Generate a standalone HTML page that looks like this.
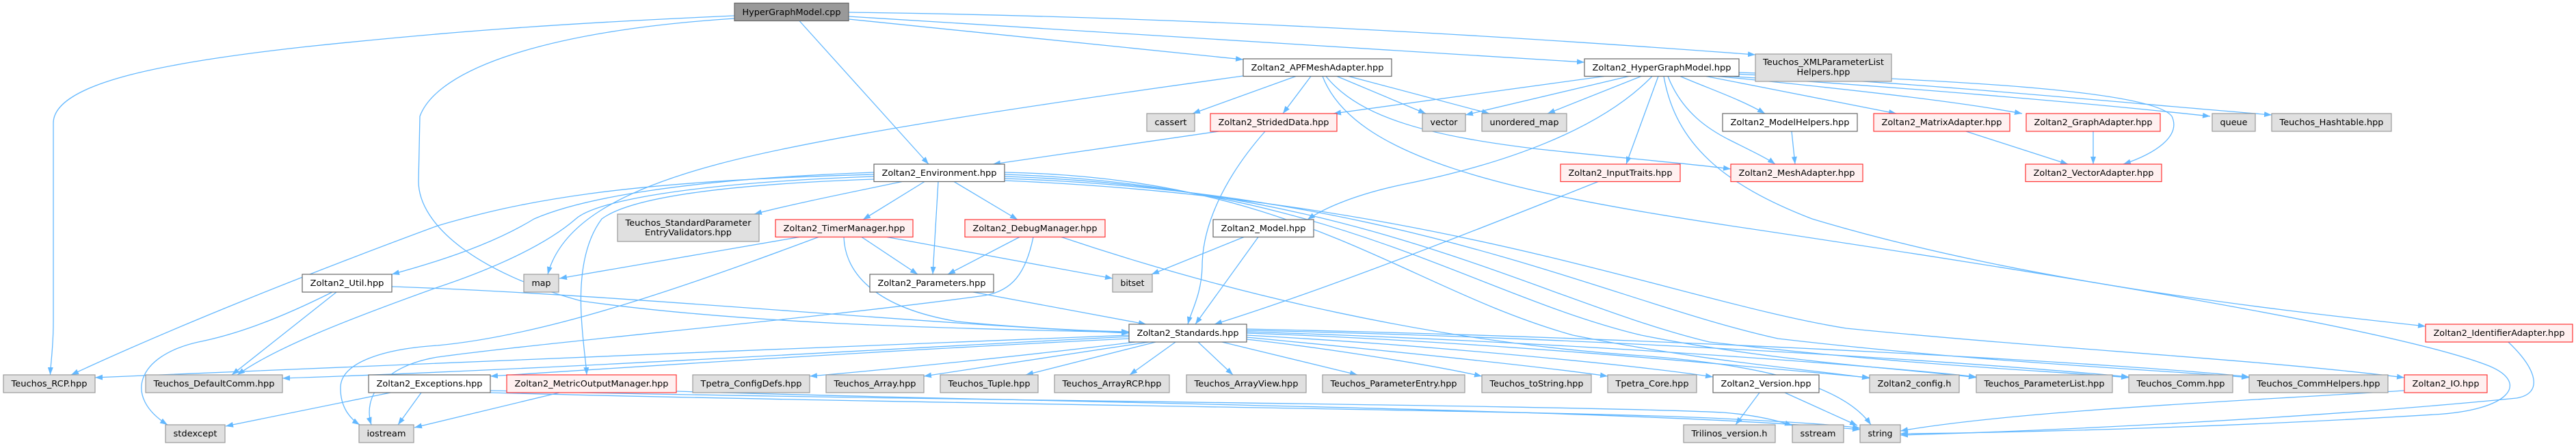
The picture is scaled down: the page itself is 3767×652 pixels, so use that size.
<!DOCTYPE html>
<html><head><meta charset="utf-8"><style>
html,body{margin:0;padding:0;background:#fff;}
svg{display:block;}
text{font-family:"DejaVu Sans","Liberation Sans",sans-serif;font-size:12.5px;fill:#000;text-anchor:middle;}
.e{fill:none;stroke:#63b8ff;stroke-width:1.3;marker-end:url(#a);}
.w{fill:#fff;stroke:#666;stroke-width:1.2;}
.g{fill:#e0e0e0;stroke:#999;stroke-width:1.2;}
.r{fill:#fff0f0;stroke:#f33;stroke-width:1.2;}
.t{fill:#999;stroke:#666;stroke-width:1.2;}
</style></head><body>
<svg width="3767" height="652" viewBox="0 0 3767 652" xmlns="http://www.w3.org/2000/svg">
<defs><marker id="a" markerWidth="11" markerHeight="8" refX="11" refY="4" orient="auto" markerUnits="userSpaceOnUse"><path d="M0,0L11,4L0,8z" fill="#63b8ff"/></marker></defs>
<rect width="3767" height="652" fill="#fff"/>
<g>
<path class="e" d="M1074,23 C800,35 640,48 450,68 C250,90 78,120 78,180 L78,470 C78,510 74,530 73.5,548"/>
<path class="e" d="M1074,27 C800,45 640,100 614,170 L612,265 C612,330 700,400 850,440 C1100,475 1400,480 1651,486"/>
<path class="e" d="M1169,30.5 L1358,240"/>
<path class="e" d="M1241,28 L1818,87"/>
<path class="e" d="M1241,24 L2317,91"/>
<path class="e" d="M1241,18 C1800,25 2300,60 2567,80"/>
<path class="e" d="M1818,111 C1500,155 1200,200 1050,240 C900,280 820,330 801,401"/>
<path class="e" d="M1895,111.5 L1744,166"/>
<path class="e" d="M1917,111.5 L1876,166"/>
<path class="e" d="M1939,111.5 C1990,175 2100,200 2250,218 C2380,232 2460,238 2531,247"/>
<path class="e" d="M1934,111.5 C1980,230 2200,280 2530,330 C3000,400 3500,480 3640,535 C3700,560 3670,600 3560,606 C3300,622 3000,632 2779,634"/>
<path class="e" d="M1955,111.5 L2085,166"/>
<path class="e" d="M1972,111.5 L2178,166"/>
<path class="e" d="M2346,111.5 L1950,166"/>
<path class="e" d="M2382,111.5 L2143,168"/>
<path class="e" d="M2400,111.5 L2263,166"/>
<path class="e" d="M2416,111.5 C2340,190 2200,240 2050,270 C1980,285 1935,305 1912,321"/>
<path class="e" d="M2425,111.5 L2378,240"/>
<path class="e" d="M2439,111.5 C2460,165 2500,190 2530,205 C2560,220 2585,232 2596,240"/>
<path class="e" d="M2433,111.5 C2450,210 2520,270 2650,320 C2950,410 3300,450 3547,477"/>
<path class="e" d="M2457,111.5 C2500,130 2545,145 2581,166"/>
<path class="e" d="M2495,111.5 L2773,166"/>
<path class="e" d="M2512,111.5 C2700,130 2860,148 2957,166"/>
<path class="e" d="M2528,111.5 C2750,125 3050,150 3232,170"/>
<path class="e" d="M2535,108 C2800,120 3100,150 3322,168"/>
<path class="e" d="M2543,106 C2900,118 3150,135 3176,170 C3190,200 3150,225 3105,240"/>
<path class="e" d="M1782,192 L1452,240"/>
<path class="e" d="M1850,192 C1790,260 1758,330 1758,390 C1757,430 1742,455 1737,474"/>
<path class="e" d="M1278,252 C1000,262 850,290 781,320 C740,345 680,372 573,401"/>
<path class="e" d="M1278,255 C900,265 760,295 640,330 C450,400 250,480 104,548"/>
<path class="e" d="M1278,258 C1000,268 870,295 842,320 C790,365 700,400 640,420 C500,470 400,510 347,548"/>
<path class="e" d="M1319,265.5 C1250,280 1150,300 1103,313"/>
<path class="e" d="M1352,265.5 L1262,321"/>
<path class="e" d="M1372,265.5 L1364,401"/>
<path class="e" d="M1395,265.5 L1488,321"/>
<path class="e" d="M1278,262 C1050,270 920,290 880,320 C850,360 848,420 850,460 C852,500 857,530 858,548"/>
<path class="e" d="M1469,252 C1900,260 2050,420 2300,490 C2500,530 2650,540 2734,553"/>
<path class="e" d="M1469,255 C1950,270 2150,430 2400,490 C2600,530 2800,540 2890,552"/>
<path class="e" d="M1469,258 C2000,275 2250,440 2500,500 C2800,535 3000,542 3113,552"/>
<path class="e" d="M1469,261 C2050,280 2350,440 2600,495 C2900,530 3150,540 3289,552"/>
<path class="e" d="M1469,264 C2100,290 2450,440 2700,480 C3000,510 3300,525 3516,552"/>
<path class="e" d="M1169,346.5 L818,407"/>
<path class="e" d="M1197,346.5 C1000,420 800,490 640,505 C560,510 500,530 498,565 C497,595 512,612 526,621"/>
<path class="e" d="M1260,346.5 L1342,401"/>
<path class="e" d="M1297,346.5 L1627,407"/>
<path class="e" d="M1234,346.5 C1236,400 1280,450 1400,470 C1500,480 1600,484 1651,485"/>
<path class="e" d="M1491,346.5 L1386,401"/>
<path class="e" d="M1511,346.5 C1500,400 1480,425 1440,432 C1200,465 800,500 640,522 C560,535 530,580 543,621"/>
<path class="e" d="M1552,346.5 C1800,430 2100,500 2400,520 C2600,535 2700,570 2736,621"/>
<path class="e" d="M1819,346.5 L1684,401"/>
<path class="e" d="M1840,346.5 L1748,474"/>
<path class="e" d="M2337,265.5 C2200,320 1950,420 1776,474"/>
<path class="e" d="M1423,427 L1676,474"/>
<path class="e" d="M486,427 C400,470 340,490 290,500 C200,520 180,580 245,621"/>
<path class="e" d="M492,427 L339,548"/>
<path class="e" d="M573,419 C900,430 1300,470 1651,487"/>
<path class="e" d="M1651,490 C1200,505 500,540 139,552"/>
<path class="e" d="M1651,492 C1300,510 800,540 413,553"/>
<path class="e" d="M1651,495 C1300,512 900,538 717,550"/>
<path class="e" d="M1660,500 C1500,520 1300,540 1184,550"/>
<path class="e" d="M1680,500 C1550,520 1420,540 1351,550"/>
<path class="e" d="M1690,500 L1500,548"/>
<path class="e" d="M1719,500 L1652,548"/>
<path class="e" d="M1752,500 L1803,548"/>
<path class="e" d="M1787,500 L1985,548"/>
<path class="e" d="M1823,496 C1950,510 2100,535 2167,550"/>
<path class="e" d="M1823,493 C2000,510 2250,535 2351,550"/>
<path class="e" d="M1823,490 C2100,505 2400,535 2505,551"/>
<path class="e" d="M1823,487 C2200,500 2600,540 2734,552"/>
<path class="e" d="M1823,485 C2300,500 2750,535 2890,551"/>
<path class="e" d="M1823,483 C2400,495 2950,535 3113,551"/>
<path class="e" d="M1823,481 C2500,495 3150,535 3289,551"/>
<path class="e" d="M571,574 L330,623"/>
<path class="e" d="M616,574 L582,621"/>
<path class="e" d="M717,571 C1300,585 2300,592 2520,603 C2570,607 2600,615 2621,622"/>
<path class="e" d="M717,574 C1300,590 2300,600 2520,612 C2600,616 2680,620 2720,626"/>
<path class="e" d="M818,574 L606,625"/>
<path class="e" d="M989,572 C1500,588 2400,598 2720,628"/>
<path class="e" d="M2573,574 L2538,621"/>
<path class="e" d="M2610,574 L2716,622"/>
<path class="e" d="M3516,571 C3300,585 2950,600 2779,630"/>
<path class="e" d="M3668,500 C3710,540 3720,575 3680,582 C3400,610 3000,630 2779,636"/>
<path class="e" d="M2620,192 L2625,240"/>
<path class="e" d="M2875,192 L3024,240"/>
<path class="e" d="M3061,192 L3061,240"/>
</g>
<g>
<rect class="t" x="1074" y="4.5" width="167" height="26"/><text x="1157.5" y="22" textLength="144" lengthAdjust="spacingAndGlyphs">HyperGraphModel.cpp</text>

<rect class="w" x="1818" y="86" width="217" height="25.5"/><text x="1926.5" y="103" textLength="194" lengthAdjust="spacingAndGlyphs">Zoltan2_APFMeshAdapter.hpp</text>
<rect class="w" x="2317" y="86" width="226" height="25.5"/><text x="2430" y="103" textLength="203" lengthAdjust="spacingAndGlyphs">Zoltan2_HyperGraphModel.hpp</text>
<rect class="g" x="2567" y="79" width="199" height="40"/><text x="2666.5" y="95" textLength="177" lengthAdjust="spacingAndGlyphs">Teuchos_XMLParameterList</text><text x="2666.5" y="109.5" textLength="78" lengthAdjust="spacingAndGlyphs">Helpers.hpp</text>

<rect class="g" x="1677" y="166" width="70" height="26"/><text x="1712" y="183" textLength="47" lengthAdjust="spacingAndGlyphs">cassert</text>
<rect class="r" x="1770" y="166" width="185" height="26"/><text x="1862.5" y="183" textLength="162" lengthAdjust="spacingAndGlyphs">Zoltan2_StridedData.hpp</text>
<rect class="g" x="2080" y="166" width="63" height="26"/><text x="2111.5" y="183" textLength="40" lengthAdjust="spacingAndGlyphs">vector</text>
<rect class="g" x="2167" y="166" width="124" height="26"/><text x="2229" y="183" textLength="101" lengthAdjust="spacingAndGlyphs">unordered_map</text>
<rect class="w" x="2519" y="166" width="197" height="26"/><text x="2617.5" y="183" textLength="174" lengthAdjust="spacingAndGlyphs">Zoltan2_ModelHelpers.hpp</text>
<rect class="r" x="2740" y="166" width="199" height="26"/><text x="2839.5" y="183" textLength="176" lengthAdjust="spacingAndGlyphs">Zoltan2_MatrixAdapter.hpp</text>
<rect class="r" x="2963" y="166" width="196" height="26"/><text x="3061" y="183" textLength="173" lengthAdjust="spacingAndGlyphs">Zoltan2_GraphAdapter.hpp</text>
<rect class="g" x="3235" y="166" width="63" height="26"/><text x="3266.5" y="183" textLength="40" lengthAdjust="spacingAndGlyphs">queue</text>
<rect class="g" x="3322" y="166" width="175" height="26"/><text x="3409.5" y="183" textLength="152" lengthAdjust="spacingAndGlyphs">Teuchos_Hashtable.hpp</text>

<rect class="w" x="1278" y="240" width="191" height="25.5"/><text x="1373.5" y="257" textLength="168" lengthAdjust="spacingAndGlyphs">Zoltan2_Environment.hpp</text>
<rect class="r" x="2282" y="240" width="175" height="25.5"/><text x="2369.5" y="257" textLength="152" lengthAdjust="spacingAndGlyphs">Zoltan2_InputTraits.hpp</text>
<rect class="r" x="2531" y="240" width="193" height="25.5"/><text x="2627.5" y="257" textLength="170" lengthAdjust="spacingAndGlyphs">Zoltan2_MeshAdapter.hpp</text>
<rect class="r" x="2962" y="240" width="199" height="25.5"/><text x="3061.5" y="257" textLength="176" lengthAdjust="spacingAndGlyphs">Zoltan2_VectorAdapter.hpp</text>

<rect class="g" x="903" y="313" width="207" height="40"/><text x="1006.5" y="330" textLength="184" lengthAdjust="spacingAndGlyphs">Teuchos_StandardParameter</text><text x="1006.5" y="344" textLength="127" lengthAdjust="spacingAndGlyphs">EntryValidators.hpp</text>
<rect class="r" x="1134" y="321" width="201" height="25.5"/><text x="1234.5" y="338" textLength="178" lengthAdjust="spacingAndGlyphs">Zoltan2_TimerManager.hpp</text>
<rect class="r" x="1411" y="321" width="205" height="25.5"/><text x="1513.5" y="338" textLength="182" lengthAdjust="spacingAndGlyphs">Zoltan2_DebugManager.hpp</text>
<rect class="w" x="1774" y="321" width="147" height="25.5"/><text x="1847.5" y="338" textLength="124" lengthAdjust="spacingAndGlyphs">Zoltan2_Model.hpp</text>

<rect class="w" x="442" y="401" width="131" height="26"/><text x="507.5" y="418" textLength="108" lengthAdjust="spacingAndGlyphs">Zoltan2_Util.hpp</text>
<rect class="g" x="766" y="401" width="51" height="26"/><text x="791.5" y="418" textLength="28" lengthAdjust="spacingAndGlyphs">map</text>
<rect class="w" x="1272" y="401" width="181" height="26"/><text x="1362.5" y="418" textLength="158" lengthAdjust="spacingAndGlyphs">Zoltan2_Parameters.hpp</text>
<rect class="g" x="1627" y="401" width="58" height="26"/><text x="1656" y="418" textLength="35" lengthAdjust="spacingAndGlyphs">bitset</text>

<rect class="w" x="1651" y="474" width="172" height="26"/><text x="1737" y="491" textLength="149" lengthAdjust="spacingAndGlyphs">Zoltan2_Standards.hpp</text>
<rect class="r" x="3547" y="474" width="215" height="26"/><text x="3654.5" y="491" textLength="192" lengthAdjust="spacingAndGlyphs">Zoltan2_IdentifierAdapter.hpp</text>

<rect class="g" x="5" y="548" width="134" height="26"/><text x="72" y="565" textLength="111" lengthAdjust="spacingAndGlyphs">Teuchos_RCP.hpp</text>
<rect class="g" x="213" y="548" width="200" height="26"/><text x="313" y="565" textLength="177" lengthAdjust="spacingAndGlyphs">Teuchos_DefaultComm.hpp</text>
<rect class="w" x="539" y="548" width="178" height="26"/><text x="628" y="565" textLength="155" lengthAdjust="spacingAndGlyphs">Zoltan2_Exceptions.hpp</text>
<rect class="r" x="741" y="548" width="248" height="26"/><text x="865" y="565" textLength="225" lengthAdjust="spacingAndGlyphs">Zoltan2_MetricOutputManager.hpp</text>
<rect class="g" x="1013" y="548" width="171" height="26"/><text x="1098.5" y="565" textLength="148" lengthAdjust="spacingAndGlyphs">Tpetra_ConfigDefs.hpp</text>
<rect class="g" x="1208" y="548" width="143" height="26"/><text x="1279.5" y="565" textLength="120" lengthAdjust="spacingAndGlyphs">Teuchos_Array.hpp</text>
<rect class="g" x="1375" y="548" width="143" height="26"/><text x="1446.5" y="565" textLength="120" lengthAdjust="spacingAndGlyphs">Teuchos_Tuple.hpp</text>
<rect class="g" x="1542" y="548" width="168" height="26"/><text x="1626" y="565" textLength="145" lengthAdjust="spacingAndGlyphs">Teuchos_ArrayRCP.hpp</text>
<rect class="g" x="1735" y="548" width="175" height="26"/><text x="1822.5" y="565" textLength="152" lengthAdjust="spacingAndGlyphs">Teuchos_ArrayView.hpp</text>
<rect class="g" x="1934" y="548" width="208" height="26"/><text x="2038" y="565" textLength="185" lengthAdjust="spacingAndGlyphs">Teuchos_ParameterEntry.hpp</text>
<rect class="g" x="2167" y="548" width="160" height="26"/><text x="2247" y="565" textLength="137" lengthAdjust="spacingAndGlyphs">Teuchos_toString.hpp</text>
<rect class="g" x="2351" y="548" width="130" height="26"/><text x="2416" y="565" textLength="107" lengthAdjust="spacingAndGlyphs">Tpetra_Core.hpp</text>
<rect class="w" x="2505" y="548" width="155" height="26"/><text x="2582.5" y="565" textLength="132" lengthAdjust="spacingAndGlyphs">Zoltan2_Version.hpp</text>
<rect class="g" x="2734" y="548" width="131" height="26"/><text x="2799.5" y="565" textLength="108" lengthAdjust="spacingAndGlyphs">Zoltan2_config.h</text>
<rect class="g" x="2890" y="548" width="199" height="26"/><text x="2989.5" y="565" textLength="176" lengthAdjust="spacingAndGlyphs">Teuchos_ParameterList.hpp</text>
<rect class="g" x="3113" y="548" width="152" height="26"/><text x="3189" y="565" textLength="129" lengthAdjust="spacingAndGlyphs">Teuchos_Comm.hpp</text>
<rect class="g" x="3289" y="548" width="203" height="26"/><text x="3390.5" y="565" textLength="180" lengthAdjust="spacingAndGlyphs">Teuchos_CommHelpers.hpp</text>
<rect class="r" x="3516" y="548" width="121" height="26"/><text x="3576.5" y="565" textLength="98" lengthAdjust="spacingAndGlyphs">Zoltan2_IO.hpp</text>

<rect class="g" x="242" y="621" width="87" height="26"/><text x="285.5" y="638" textLength="64" lengthAdjust="spacingAndGlyphs">stdexcept</text>
<rect class="g" x="525" y="621" width="80" height="26"/><text x="565" y="638" textLength="57" lengthAdjust="spacingAndGlyphs">iostream</text>
<rect class="g" x="2462" y="621" width="134" height="26"/><text x="2529" y="638" textLength="111" lengthAdjust="spacingAndGlyphs">Trilinos_version.h</text>
<rect class="g" x="2621" y="621" width="75" height="26"/><text x="2658.5" y="638" textLength="52" lengthAdjust="spacingAndGlyphs">sstream</text>
<rect class="g" x="2720" y="621" width="59" height="26"/><text x="2749.5" y="638" textLength="36" lengthAdjust="spacingAndGlyphs">string</text>
</g>
</svg>
</body></html>
